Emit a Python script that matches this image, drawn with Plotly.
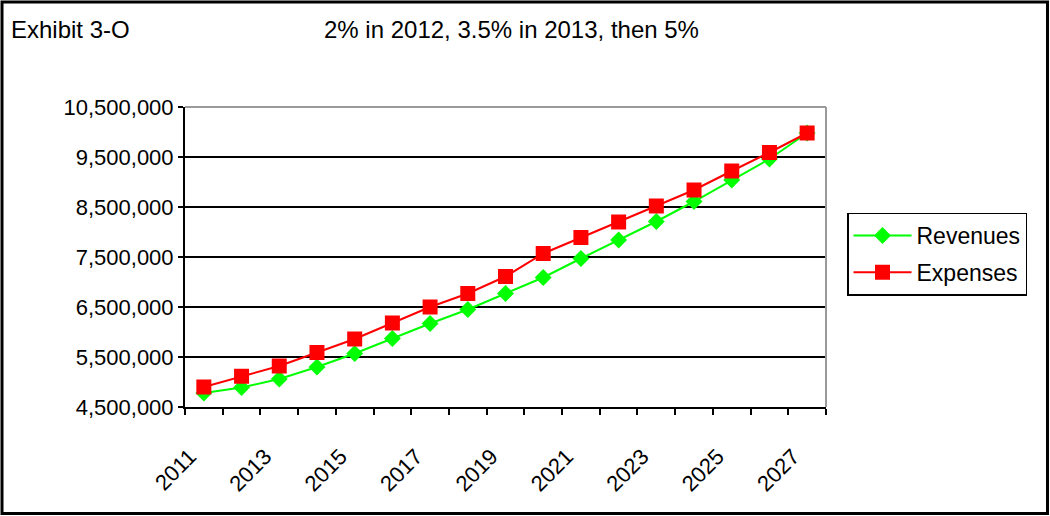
import plotly.graph_objects as go

years = list(range(2011, 2028))
revenues = [4780000, 4890000, 5060000, 5300000, 5570000, 5870000, 6170000, 6450000, 6770000,
            7090000, 7470000, 7840000, 8210000, 8610000, 9040000, 9460000, 9980000]
expenses = [4900000, 5115000, 5320000, 5590000, 5860000, 6180000, 6500000, 6770000, 7110000,
            7570000, 7890000, 8200000, 8520000, 8840000, 9220000, 9590000, 9980000]

title_left = "Exhibit 3-O"
title_main = "2% in 2012, 3.5% in 2013, then 5%"

W, H = 1050, 516
L, R, T, B = 185, 826, 107, 407
FONT = "Liberation Sans, Arial, sans-serif"


def px(x):
    return (x - L) / (R - L)


def py(y):
    return (B - y) / (B - T)


fig = go.Figure()
fig.add_trace(go.Scatter(
    x=years, y=revenues, name="Revenues", mode="lines+markers",
    line=dict(color="#00FF00", width=2),
    marker=dict(symbol="diamond", size=13, color="#00FF00"),
    legendgroup="a",
))
fig.add_trace(go.Scatter(
    x=years, y=expenses, name="Expenses", mode="lines+markers",
    line=dict(color="#FF0000", width=2),
    marker=dict(symbol="square", size=15, color="#FF0000"),
    legendgroup="b",
))

fig.update_layout(
    width=W, height=H,
    margin=dict(l=L, r=W - R, t=T, b=H - B, pad=0),
    paper_bgcolor="white", plot_bgcolor="white",
    font=dict(family=FONT, size=22, color="black"),
    showlegend=True,
    legend=dict(
        x=px(847), y=py(212.5), xanchor="left", yanchor="top",
        bordercolor="black", borderwidth=1.5, bgcolor="white",
        font=dict(size=23), tracegroupgap=4, traceorder="grouped",
        itemwidth=58,
    ),
    xaxis=dict(
        range=[2010.5, 2027.5], tickmode="linear", tick0=2011, dtick=2,
        tickformat="d", tickangle=-45, ticks="", showgrid=False,
        showline=True, linecolor="black", linewidth=2, zeroline=False,
        ticklabelstandoff=26, ticklabelshift=-14,
        minor=dict(tick0=2010.5, dtick=1, ticks="outside", ticklen=6,
                   tickwidth=2, tickcolor="black", showgrid=False),
        tickfont=dict(size=22),
    ),
    yaxis=dict(
        range=[4500000, 10500000], tickmode="linear", tick0=4500000, dtick=1000000,
        tickformat=",d", showgrid=True, gridcolor="black", gridwidth=2,
        showline=True, linecolor="black", linewidth=2, zeroline=False,
        ticks="outside", ticklen=5, tickwidth=2, tickcolor="black",
        tickfont=dict(size=22),
    ),
    shapes=[
        dict(type="line", xref="paper", yref="paper", x0=0, x1=1, y0=1, y1=1,
             line=dict(color="#9a9a9a", width=2), layer="above"),
        dict(type="line", xref="paper", yref="paper", x0=1, x1=1, y0=0, y1=1,
             line=dict(color="#9a9a9a", width=2), layer="above"),
        dict(type="rect", xref="paper", yref="paper",
             x0=px(2), x1=px(1047.5), y0=py(2), y1=py(513.5),
             line=dict(color="black", width=3), layer="above"),
    ],
    annotations=[
        dict(text=title_left, xref="paper", yref="paper", x=px(9), y=py(29),
             xanchor="left", yanchor="middle", showarrow=False,
             font=dict(size=24)),
        dict(text=title_main, xref="paper", yref="paper", x=px(511), y=py(29),
             xanchor="center", yanchor="middle", showarrow=False,
             font=dict(size=24)),
    ],
)

fig.write_html("out.html")
